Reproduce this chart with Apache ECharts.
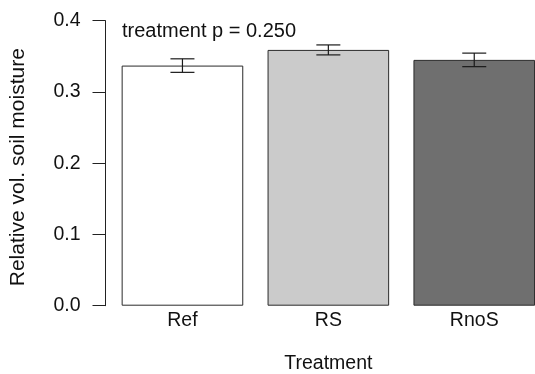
<!DOCTYPE html>
<html>
<head>
<meta charset="utf-8">
<script src="https://cdn.jsdelivr.net/npm/echarts@6/dist/echarts.min.js"></script>
<style>
  html, body { margin: 0; padding: 0; background: #fff; }
  #chart { width: 535px; height: 374px; }
</style>
</head>
<body>
<div id="chart"></div>
<script>
// values
const treatments = ['Ref', 'RS', 'RnoS'];
const moisture = [0.337, 0.359, 0.345];
const errLow = [0.3275, 0.352, 0.3355];
const errHigh = [0.3465, 0.366, 0.3545];
const barColors = ['#ffffff', '#cbcbcb', '#6f6f6f'];
const yTicks = [0, 0.1, 0.2, 0.3, 0.4];

const font = 'Liberation Sans, Arial, sans-serif';
const chart = echarts.init(document.getElementById('chart'));

const option = {
    animation: false,
    backgroundColor: '#fff',
    title: {
        text: 'treatment p = 0.250',
        left: 117,
        top: 16,
        textStyle: { fontFamily: font, fontSize: 20, fontWeight: 'normal', color: '#111' }
    },
    // the last bar runs to the edge of the picture, so let the grid go past it
    grid: { left: 109.5, width: 437.7, top: 20.7, bottom: 68.3, outerBoundsMode: 'none' },
    xAxis: {
        type: 'category',
        data: treatments,
        axisLine: { show: false },
        axisTick: { show: false },
        axisLabel: { fontFamily: font, fontSize: 19.5, color: '#111', margin: 5 },
        name: 'Treatment',
        nameLocation: 'middle',
        nameGap: 48,
        nameTextStyle: { fontFamily: font, fontSize: 19.5, color: '#111' }
    },
    yAxis: {
        type: 'value',
        min: yTicks[0],
        max: yTicks[yTicks.length - 1],
        interval: 0.1,
        offset: 4,
        splitLine: { show: false },
        axisLine: { show: true, lineStyle: { color: '#222', width: 1 } },
        axisTick: { show: true, length: 13, lineStyle: { color: '#222' } },
        axisLabel: {
            fontFamily: font, fontSize: 19.5, color: '#111', margin: 25,
            formatter: v => v.toFixed(1)
        },
        name: 'Relative vol. soil moisture',
        nameLocation: 'middle',
        nameGap: 77,
        nameTextStyle: { fontFamily: font, fontSize: 21, color: '#111', padding: [0, 8, 0, 0] }
    },
    series: [
        {
            type: 'bar',
            barWidth: 121.6,
            data: moisture.map((v, i) => ({
                value: v,
                itemStyle: { color: barColors[i], borderColor: '#2a2a2a', borderWidth: 1 }
            }))
        },
        {
            type: 'custom',
            data: treatments.map((t, i) => [i, errLow[i], errHigh[i]]),
            renderItem: (params, api) => {
                const lo = api.coord([api.value(0), api.value(1)]);
                const hi = api.coord([api.value(0), api.value(2)]);
                const half = 12;
                const style = { stroke: '#1a1a1a', lineWidth: 1.2 };
                return {
                    type: 'group',
                    children: [
                        { type: 'line', shape: { x1: lo[0], y1: lo[1], x2: hi[0], y2: hi[1] }, style },
                        { type: 'line', shape: { x1: lo[0] - half, y1: lo[1], x2: lo[0] + half, y2: lo[1] }, style },
                        { type: 'line', shape: { x1: hi[0] - half, y1: hi[1], x2: hi[0] + half, y2: hi[1] }, style }
                    ]
                };
            },
            z: 5
        }
    ]
};

chart.setOption(option);
</script>
</body>
</html>
